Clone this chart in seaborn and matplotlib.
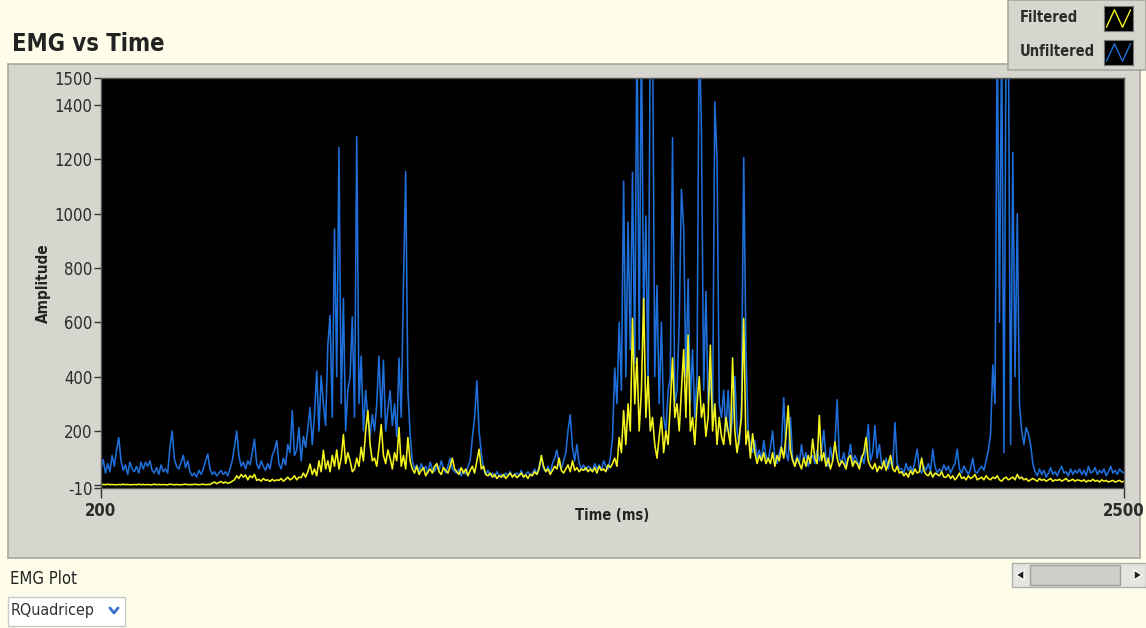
import numpy as np
import pandas as pd
import seaborn as sns
import matplotlib.pyplot as plt
from matplotlib.patches import Rectangle, Polygon
from matplotlib.lines import Line2D

# sample times (ms), one reading every 5 ms
time_ms = np.arange(200, 2501, 5)

unfiltered = (
    [60, 95, 45, 80, 50, 110, 70, 130, 176, 90, 55, 75, 40, 85, 60, 50, 70, 45, 85, 60] +
    [85, 70, 90, 55, 45, 65, 40, 75, 50, 60, 45, 140, 200, 95, 70, 60, 85, 110, 65, 90] +
    [50, 35, 45, 30, 55, 40, 60, 90, 115, 60, 40, 50, 35, 45, 55, 40, 50, 35, 60, 90] +
    [140, 200, 110, 70, 85, 60, 90, 75, 120, 170, 80, 60, 90, 70, 55, 80, 60, 110, 130, 165] +
    [80, 60, 100, 75, 150, 120, 275, 110, 130, 213, 90, 180, 140, 210, 286, 150, 260, 421, 200, 403] +
    [300, 220, 516, 626, 250, 944, 400, 1244, 300, 688, 200, 350, 400, 620, 250, 1284, 300, 476, 200, 350] +
    [250, 180, 260, 200, 300, 476, 250, 460, 200, 280, 348, 220, 300, 180, 469, 250, 736, 1156, 350, 187] +
    [90, 60, 75, 50, 80, 55, 70, 45, 85, 60, 50, 75, 55, 90, 65, 45, 70, 100, 60, 50] +
    [45, 60, 35, 55, 40, 70, 90, 176, 250, 385, 200, 120, 60, 40, 55, 35, 45, 30, 50, 35] +
    [40, 30, 45, 35, 50, 30, 40, 45, 35, 55, 30, 40, 50, 35, 45, 60, 40, 70, 103, 60] +
    [50, 70, 45, 80, 100, 130, 75, 60, 90, 120, 202, 260, 140, 90, 150, 80, 60, 75, 55, 70] +
    [65, 50, 80, 60, 75, 55, 90, 70, 60, 100, 176, 432, 300, 600, 350, 1120, 400, 970, 500, 1153] +
    [450, 1700, 500, 1700, 600, 992, 350, 1700, 1700, 400, 736, 300, 600, 250, 200, 348, 400, 1280, 300, 348] +
    [600, 1090, 950, 400, 760, 300, 500, 250, 400, 1700, 1300, 350, 714, 300, 400, 250, 1412, 1200, 300, 250] +
    [350, 200, 350, 180, 250, 400, 200, 150, 300, 1207, 500, 200, 150, 120, 165, 100, 130, 90, 165, 110] +
    [90, 140, 200, 100, 80, 120, 150, 323, 120, 90, 250, 100, 70, 110, 80, 150, 90, 120, 70, 100] +
    [110, 80, 130, 90, 120, 202, 100, 70, 140, 90, 150, 315, 100, 80, 120, 70, 100, 151, 80, 110] +
    [90, 70, 110, 80, 130, 224, 90, 120, 220, 100, 150, 80, 70, 100, 60, 90, 70, 231, 80, 60] +
    [60, 45, 80, 55, 70, 50, 90, 133, 60, 45, 70, 55, 80, 50, 133, 70, 45, 60, 50, 75] +
    [55, 70, 45, 65, 80, 133, 60, 45, 70, 55, 40, 60, 100, 50, 45, 60, 70, 55, 90, 130] +
    [187, 443, 300, 1700, 600, 1700, 120, 1700, 1700, 150, 1226, 400, 1000, 300, 200, 150, 213, 190, 150, 80] +
    [50, 35, 60, 40, 55, 30, 45, 65, 40, 50, 35, 55, 70, 45, 50, 35, 60, 40, 55, 45] +
    [60, 40, 55, 35, 70, 45, 50, 65, 40, 55, 45, 60, 35, 50, 70, 45, 55, 40, 60, 50, 45]
)

filtered = (
    [2, 3, 2, 4, 2, 3, 2, 2, 3, 2, 4, 2, 3, 2, 2, 3, 2, 4, 2, 3] +
    [2, 3, 2, 2, 4, 2, 3, 2, 3, 2, 2, 4, 3, 2, 3, 2, 2, 3, 4, 2] +
    [3, 2, 4, 3, 2, 3, 4, 2, 3, 3, 8, 12, 6, 10, 14, 8, 12, 7, 10, 15] +
    [20, 35, 25, 40, 30, 38, 20, 35, 28, 40, 18, 22, 15, 25, 18, 20, 14, 22, 16, 20] +
    [18, 25, 15, 22, 30, 20, 25, 35, 20, 30, 28, 45, 30, 50, 78, 40, 60, 35, 90, 50] +
    [129, 60, 90, 50, 110, 70, 130, 60, 100, 187, 80, 120, 90, 50, 60, 100, 70, 140, 90, 200] +
    [275, 150, 90, 100, 70, 140, 224, 110, 80, 130, 100, 60, 120, 90, 213, 70, 110, 60, 176, 90] +
    [60, 45, 70, 40, 55, 65, 35, 50, 60, 45, 70, 80, 50, 40, 65, 55, 45, 70, 100, 60] +
    [50, 40, 65, 45, 60, 35, 55, 70, 45, 90, 133, 60, 70, 40, 35, 45, 30, 40, 25, 35] +
    [30, 40, 25, 35, 45, 30, 40, 28, 35, 45, 30, 38, 25, 40, 35, 50, 40, 60, 110, 70] +
    [50, 60, 40, 55, 70, 60, 100, 55, 45, 60, 75, 50, 90, 55, 65, 50, 60, 55, 65, 50] +
    [60, 50, 65, 45, 70, 55, 60, 50, 75, 65, 80, 100, 70, 176, 120, 275, 150, 300, 200, 615] +
    [300, 469, 200, 350, 688, 250, 400, 200, 250, 150, 100, 180, 250, 120, 200, 150, 300, 469, 250, 300] +
    [200, 350, 500, 250, 553, 200, 250, 150, 300, 400, 250, 300, 180, 250, 516, 200, 300, 150, 250, 180] +
    [150, 250, 200, 150, 469, 200, 120, 180, 250, 615, 150, 200, 100, 190, 120, 80, 110, 90, 120, 80] +
    [100, 80, 120, 70, 110, 90, 140, 100, 180, 293, 130, 90, 70, 100, 80, 60, 100, 70, 110, 80] +
    [170, 100, 80, 257, 90, 120, 70, 100, 60, 90, 160, 100, 70, 90, 80, 60, 100, 110, 70, 90] +
    [80, 60, 100, 120, 176, 90, 70, 60, 80, 50, 70, 60, 90, 55, 80, 110, 60, 50, 70, 45] +
    [50, 35, 45, 30, 55, 40, 60, 45, 50, 100, 55, 40, 35, 50, 30, 45, 40, 35, 50, 30] +
    [30, 40, 25, 35, 20, 30, 45, 25, 30, 20, 35, 25, 30, 40, 20, 25, 30, 20, 35, 25] +
    [20, 30, 25, 35, 20, 15, 25, 30, 20, 25, 30, 20, 40, 25, 30, 20, 25, 15, 20, 25] +
    [20, 15, 25, 18, 22, 15, 20, 25, 15, 20, 18, 22, 15, 20, 25, 15, 18, 22, 15, 20] +
    [18, 15, 20, 12, 18, 15, 22, 15, 18, 12, 20, 15, 18, 12, 15, 18, 12, 15, 18, 12, 15]
)

y_ticks = [-10, 200, 400, 600, 800, 1000, 1200, 1400, 1500]
x_ticks = [200, 2500]

emg = pd.DataFrame({"Time (ms)": time_ms, "Unfiltered": unfiltered, "Filtered": filtered})

sns.set_style("dark")
plt.rcParams['font.family'] = ['DejaVu Sans']
plt.rcParams['font.stretch'] = 'condensed'

W, H = 1146, 628
fig = plt.figure(figsize=(W / 100, H / 100), dpi=100)
fig.patch.set_facecolor('#fdfde9')

def fx(px):
    return px / W

def fy(py):
    return 1 - py / H

# grey panel behind the graph
fig.add_artist(Rectangle((fx(8), fy(558)), fx(1140) - fx(8), fy(64) - fy(558),
                         transform=fig.transFigure, facecolor='#d6d6ce', edgecolor='#a8a8a0', lw=1.2, zorder=0))
# legend box
fig.add_artist(Rectangle((fx(1008), fy(70)), fx(1146) - fx(1008), fy(0) - fy(70),
                         transform=fig.transFigure, facecolor='#d6d6ce', edgecolor='#a8a8a0', lw=1.2, zorder=0))

ax = fig.add_axes([fx(101), fy(488), fx(1124) - fx(101), fy(78) - fy(488)])
ax.set_zorder(2)
ax.set_facecolor('black')

sns.lineplot(data=emg, x="Time (ms)", y="Unfiltered", ax=ax, color='#1e6fd9', linewidth=1.15, estimator=None)
sns.lineplot(data=emg, x="Time (ms)", y="Filtered", ax=ax, color='#f4f41e', linewidth=1.15, estimator=None)

ax.set_xlim(200, 2500)
ax.set_ylim(-10, 1500)
ax.set_yticks(y_ticks)
ax.set_yticklabels([str(v) for v in y_ticks], fontsize=12, color='#2b2b2b')
ax.set_yticks([0], minor=True)
ax.set_xticks(x_ticks)
ax.set_xticklabels([str(v) for v in x_ticks], fontsize=12, color='#2b2b2b', fontweight='bold')
ax.tick_params(axis='y', which='both', direction='out', length=5, width=1, color='#333333', pad=1, left=True)
ax.tick_params(axis='x', direction='out', length=7, width=1, color='#333333', pad=3, bottom=True)
for sp in ax.spines.values():
    sp.set_visible(True)
    sp.set_color('#555555')
    sp.set_linewidth(1)
ax.grid(False)
ax.set_xlabel("")
ax.set_ylabel("Amplitude", fontsize=11, fontweight='bold', color='#222222', labelpad=3)
fig.text(fx(612), fy(516), "Time (ms)", fontsize=10.5, fontweight='bold', color='#222222', ha='center', va='center')

# title and legend texts
fig.text(fx(12), fy(44), "EMG vs Time", fontsize=17, fontweight='bold', color='#222222', va='center', ha='left')
fig.text(fx(1020), fy(17), "Filtered", fontsize=10.5, fontweight='bold', color='#2b2b2b', va='center')
fig.text(fx(1020), fy(52), "Unfiltered", fontsize=10.5, fontweight='bold', color='#2b2b2b', va='center')
for top, col in [(6, '#f4f41e'), (40, '#1e6fd9')]:
    icon = fig.add_axes([fx(1104), fy(top + 25), fx(1133) - fx(1104), fy(top) - fy(top + 25)])
    icon.set_zorder(3)
    icon.set_facecolor('black')
    icon.plot([0, 1, 2, 3], [0.15, 0.85, 0.15, 0.85], color=col, lw=1)
    icon.set_xlim(-0.3, 3.3)
    icon.set_ylim(0, 1)
    icon.set_xticks([])
    icon.set_yticks([])
    for sp in icon.spines.values():
        sp.set_color('#777777')

# control below the graph
fig.text(fx(10), fy(579), "EMG Plot", fontsize=12, color='#222222', va='center')
fig.add_artist(Rectangle((fx(8), fy(626)), fx(125) - fx(8), fy(597) - fy(626),
                         transform=fig.transFigure, facecolor='white', edgecolor='#c8c8c8', lw=1, zorder=1))
fig.text(fx(11), fy(611), "RQuadricep", fontsize=11.5, color='#333333', va='center')
fig.add_artist(Line2D([fx(110), fx(114), fx(118)], [fy(608), fy(613), fy(608)],
                      transform=fig.transFigure, color='#3a6fc9', lw=2))

# scrollbar
fig.add_artist(Rectangle((fx(1012), fy(587)), fx(1146) - fx(1012), fy(563) - fy(587),
                         transform=fig.transFigure, facecolor='#e4e4e0', edgecolor='#b0b0aa', lw=1, zorder=1))
fig.add_artist(Rectangle((fx(1030), fy(585)), fx(1120) - fx(1030), fy(565) - fy(585),
                         transform=fig.transFigure, facecolor='#cfcfca', edgecolor='#a0a09a', lw=1, zorder=2))
fig.add_artist(Polygon([[fx(1016), fy(575)], [fx(1024), fy(570)], [fx(1024), fy(580)]],
                       transform=fig.transFigure, facecolor='#222222', zorder=3))
fig.add_artist(Polygon([[fx(1142), fy(575)], [fx(1134), fy(570)], [fx(1134), fy(580)]],
                       transform=fig.transFigure, facecolor='#222222', zorder=3))

fig.savefig("out.png", dpi=100, facecolor=fig.get_facecolor())
